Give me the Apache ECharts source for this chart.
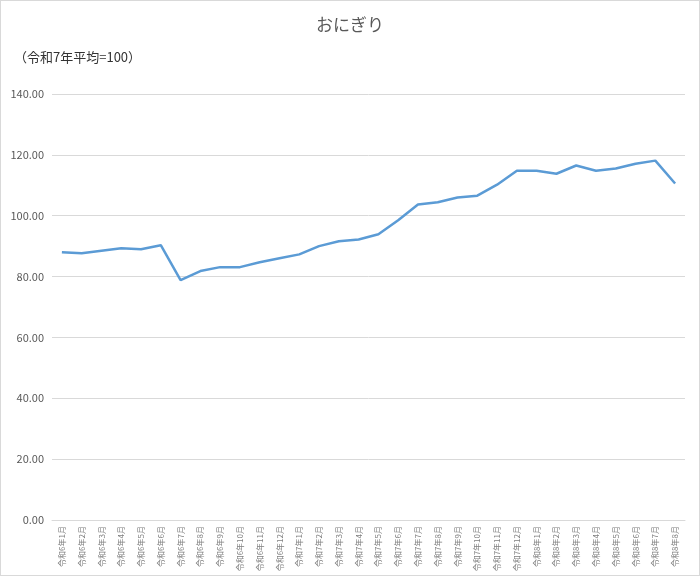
<!DOCTYPE html>
<html><head><meta charset="utf-8">
<script src="https://cdn.jsdelivr.net/npm/echarts@6/dist/echarts.min.js"></script>
<style>html,body{margin:0;padding:0;background:#fff}#c{width:700px;height:576px;box-sizing:border-box;border:1px solid #d9d9d9}</style>
</head><body><div id="c"></div>
<script>
const categories = [];
const years = [["令和6年",12],["令和7年",12],["令和8年",8]];
for (const [y,n] of years) for (let m=1;m<=n;m++) categories.push(y+m+"月");
const values = [88.0,87.7,88.5,89.3,89.0,90.3,78.8,81.8,83.1,83.1,84.7,86.0,
  87.3,90.0,91.6,92.2,93.9,98.5,103.7,104.4,106.0,106.6,110.2,114.8,
  114.8,113.8,116.5,114.8,115.5,117.1,118.1,110.6];
const font = "'Noto Sans CJK JP', sans-serif";
const chart = echarts.init(document.getElementById('c'));
chart.setOption({
  animation:false,
  title:[{text:'おにぎり',left:'center',top:10,textStyle:{fontFamily:font,fontSize:17,fontWeight:'normal',color:'#595959'}},
         {text:'（令和7年平均=100）',left:8,top:45,textStyle:{fontFamily:font,fontSize:13,fontWeight:'normal',color:'#333'}}],
  grid:{left:51,right:14,top:93,bottom:55,containLabel:false},
  xAxis:{type:'category',data:categories,boundaryGap:true,
    axisLine:{lineStyle:{color:'#d9d9d9'}},axisTick:{show:false},
    axisLabel:{rotate:90,interval:0,fontSize:8,color:'#7f7f7f',fontFamily:font,margin:6}},
  yAxis:{type:'value',min:0,max:140,interval:20,
    axisLabel:{formatter:v=>v.toFixed(2),fontSize:11,color:'#595959',fontFamily:font},
    splitLine:{lineStyle:{color:'#d9d9d9'}},axisLine:{show:false},axisTick:{show:false}},
  series:[{type:'line',data:values,symbol:'none',lineStyle:{color:'#5b9bd5',width:2.5}}]
});
</script></body></html>
